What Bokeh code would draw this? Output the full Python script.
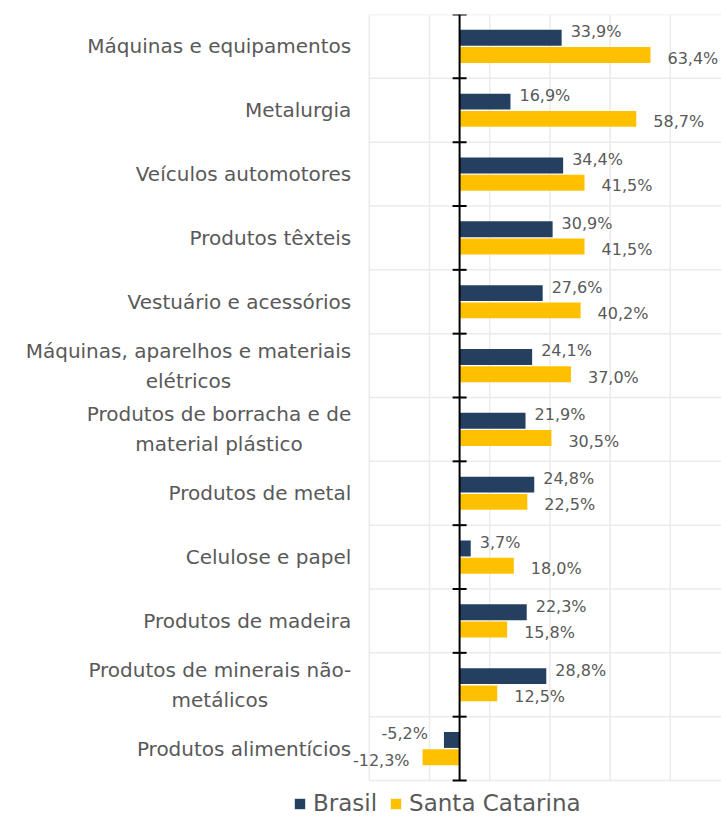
from bokeh.plotting import figure
from bokeh.models import (ColumnDataSource, Range1d, LabelSet,
                          Legend, LegendItem)
from bokeh.core.properties import value
from bokeh.transform import dodge
from bokeh.embed import file_html
from bokeh.resources import INLINE

categories = [
    "Máquinas e equipamentos",
    "Metalurgia",
    "Veículos automotores",
    "Produtos têxteis",
    "Vestuário e acessórios",
    "Máquinas, aparelhos e materiais\nelétricos",
    "Produtos de borracha e de\nmaterial plástico",
    "Produtos de metal",
    "Celulose e papel",
    "Produtos de madeira",
    "Produtos de minerais não-\nmetálicos",
    "Produtos alimentícios",
]
brasil = [33.9, 16.9, 34.4, 30.9, 27.6, 24.1, 21.9, 24.8, 3.7, 22.3, 28.8, -5.2]
santa_catarina = [63.4, 58.7, 41.5, 41.5, 40.2, 37.0, 30.5, 22.5, 18.0, 15.8, 12.5, -12.3]
series_names = ["Brasil", "Santa Catarina"]
x_min, x_max = -30, 90
x_gridlines = [-30, -10, 10, 30, 50, 70, 90]

BR_COLOR = "#243F60"
SC_COLOR = "#FFC000"
TEXT_COLOR = "#595959"
GRID_COLOR = "#EBEBEB"
FONT = "DejaVu Sans"

n = len(categories)
idx = list(range(n))
bounds = [i - 0.5 for i in range(n + 1)]


def fmt(v):
    return f"{v:.1f}".replace(".", ",") + "%"


source = ColumnDataSource(dict(
    y=idx,
    cat=categories,
    cat_x=[x_min] * n,
    brasil=brasil,
    sc=santa_catarina,
    brasil_txt=[fmt(v) for v in brasil],
    sc_txt=[fmt(v) for v in santa_catarina],
    brasil_align=["left" if v >= 0 else "right" for v in brasil],
    sc_align=["left" if v >= 0 else "right" for v in santa_catarina],
    brasil_xoff=[9 if v >= 0 else -16 for v in brasil],
    sc_xoff=[17 if v >= 0 else -13 for v in santa_catarina],
))
sep_source = ColumnDataSource(dict(
    y=bounds,
    x0=[x_min] * len(bounds),
    x1=[x_max] * len(bounds),
    zero=[0] * len(bounds),
))
vgrid_source = ColumnDataSource(dict(
    x=x_gridlines,
    y0=[bounds[0]] * len(x_gridlines),
    y1=[bounds[-1]] * len(x_gridlines),
))

# plot area rows occupy 766 px; 36 px more below hold the legend
row_px = 766 / n
p = figure(
    frame_width=721, frame_height=802,
    min_border_left=0, min_border_right=0,
    min_border_top=14, min_border_bottom=0,
    x_range=Range1d(-152.5, 87.0),
    y_range=Range1d(start=bounds[-1] + 36 / row_px, end=bounds[0]),
    output_backend="svg", toolbar_location=None,
    outline_line_color=None,
)
p.background_fill_color = "white"
p.border_fill_color = "white"

p.xaxis.visible = False
p.yaxis.visible = False
p.grid.visible = False

# grid: vertical lines at the value gridlines, horizontal separators between rows
p.segment(x0="x", x1="x", y0="y0", y1="y1", source=vgrid_source,
          line_color=GRID_COLOR, line_width=1.5, level="underlay")
p.segment(x0="x0", x1="x1", y0="y", y1="y", source=sep_source,
          line_color=GRID_COLOR, line_width=1.5, level="underlay")

# category labels, right-anchored left of the plot area, lines centred
p.text(x="cat_x", y="y", text="cat", source=source, x_offset=-18,
       anchor="center_right", text_align="center", text_baseline="middle",
       text_font=value(FONT), text_font_size="20px", text_color=TEXT_COLOR,
       text_line_height=1.25)

r_br = p.hbar(y=dodge("y", -0.135, range=p.y_range), left=0, right="brasil",
              height=0.25, source=source, fill_color=BR_COLOR, line_color=None)
r_sc = p.hbar(y=dodge("y", 0.135, range=p.y_range), left=0, right="sc",
              height=0.25, source=source, fill_color=SC_COLOR, line_color=None)

# zero axis line with tick marks between categories
p.segment(x0=0, x1=0, y0=bounds[0], y1=bounds[-1], line_color="black", line_width=2)
p.scatter(x="zero", y="y", source=sep_source, marker="dash", size=14,
          line_color="black", line_width=2)

lab_br = LabelSet(x="brasil", y=dodge("y", -0.135, range=p.y_range), text="brasil_txt",
                  source=source, text_align="brasil_align", x_offset="brasil_xoff",
                  y_offset=6, text_baseline="middle", text_font=value(FONT),
                  text_font_size="16px", text_color=TEXT_COLOR)
lab_sc = LabelSet(x="sc", y=dodge("y", 0.135, range=p.y_range), text="sc_txt",
                  source=source, text_align="sc_align", x_offset="sc_xoff",
                  y_offset=-3, text_baseline="middle", text_font=value(FONT),
                  text_font_size="16px", text_color=TEXT_COLOR)
p.add_layout(lab_br)
p.add_layout(lab_sc)

legend = Legend(
    items=[LegendItem(label=series_names[0], renderers=[r_br]),
           LegendItem(label=series_names[1], renderers=[r_sc])],
    orientation="horizontal", location=(293, 0),
    padding=0, margin=0, spacing=12,
    glyph_width=13, glyph_height=13, label_standoff=7,
    label_height=23,
    label_text_font=FONT, label_text_font_size="23px",
    label_text_color=TEXT_COLOR, label_text_baseline="middle",
    border_line_color=None, background_fill_alpha=0,
)
p.add_layout(legend, "center")

open("out.html", "w").write(file_html(p, INLINE))
